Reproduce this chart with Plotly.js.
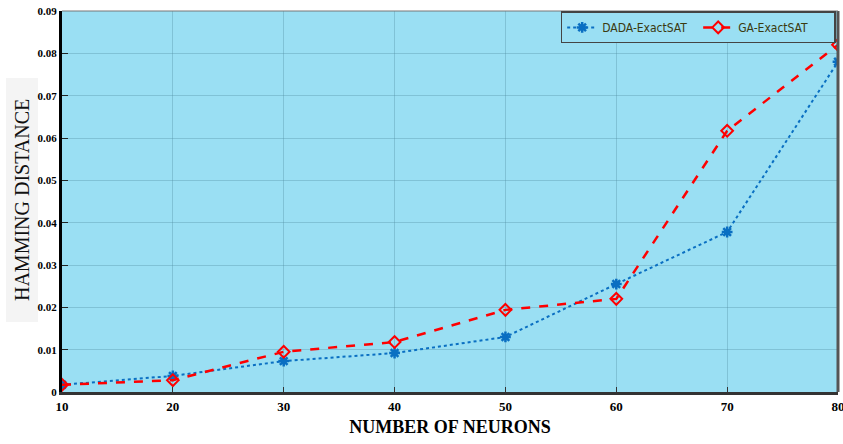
<!DOCTYPE html>
<html><head><meta charset="utf-8">
<script src="https://cdn.plot.ly/plotly-3.0.1.min.js"></script>
<style>html,body{margin:0;padding:0;background:#fff}#c{width:843px;height:444px}</style>
</head><body><div id="c"></div>
<script>
const neurons = [10, 20, 30, 40, 50, 60, 70, 80];
const dadaExactSAT = [0.0017, 0.0038, 0.0073, 0.0092, 0.0130, 0.0255, 0.0378, 0.0780];
const gaExactSAT = [0.0017, 0.0028, 0.0095, 0.0118, 0.0194, 0.0220, 0.0617, 0.0820];
const yTickVals = [0, 0.01, 0.02, 0.03, 0.04, 0.05, 0.06, 0.07, 0.08, 0.09];
const yTickText = ['0', '0.01', '0.02', '0.03', '0.04', '0.05', '0.06', '0.07', '0.08', '0.09'];
const xTickVals = [10, 20, 30, 40, 50, 60, 70, 80];

const traces = [
  {x: neurons, y: dadaExactSAT, name: 'DADA-ExactSAT', type: 'scatter', mode: 'lines+markers',
   line: {color: '#0a6fc2', width: 2, dash: 'dot'},
   marker: {symbol: 'asterisk-open', size: 9, color: '#0a6fc2', line: {color: '#0a6fc2', width: 2.5}}},
  {x: neurons, y: gaExactSAT, name: 'GA-ExactSAT', type: 'scatter', mode: 'lines+markers',
   line: {color: '#ff0000', width: 2.5, dash: 'dash'},
   marker: {symbol: 'diamond-open', size: 9, color: '#ff0000', line: {color: '#ff0000', width: 2}}}
];

const layout = {
  width: 843, height: 444,
  margin: {l: 62, r: 5, t: 11, b: 52},
  paper_bgcolor: '#ffffff',
  plot_bgcolor: '#9adff3',
  showlegend: true,
  legend: {orientation: 'h', x: 0.997, xanchor: 'right', y: 0.999, yanchor: 'top',
    bgcolor: '#9adff3', bordercolor: '#444', borderwidth: 1.5,
    font: {family: 'Liberation Sans Narrow, Arial Narrow, DejaVu Sans Condensed, sans-serif', size: 12, color: '#3a3a10'},
    tracegroupgap: 0, itemwidth: 30, entrywidth: 91},
  xaxis: {range: [10, 80], tickvals: xTickVals, ticktext: xTickVals.map(String),
    ticklabeloverflow: 'allow',
    showgrid: true, gridcolor: 'rgba(80,140,160,0.35)', gridwidth: 1,
    zeroline: false, showline: true, linecolor: '#333', linewidth: 3, mirror: false,
    ticks: 'inside', ticklen: 5, tickcolor: '#333',
    tickfont: {family: 'Liberation Serif, Times New Roman, serif', size: 13, color: '#000', weight: 'bold'},
    title: {text: 'NUMBER OF NEURONS', standoff: 8,
      font: {family: 'Liberation Serif, Times New Roman, serif', size: 18, color: '#000', weight: 'bold'}}},
  yaxis: {range: [0, 0.09], tickvals: yTickVals, ticktext: yTickText,
    ticklabeloverflow: 'allow',
    showgrid: true, gridcolor: 'rgba(80,140,160,0.35)', gridwidth: 1,
    zeroline: false, showline: true, linecolor: '#000', linewidth: 3,
    ticks: 'inside', ticklen: 6, tickcolor: '#222',
    tickfont: {family: 'Liberation Serif, Times New Roman, serif', size: 11, color: '#000', weight: 'bold'}},
  shapes: [
    {type: 'rect', xref: 'paper', yref: 'paper', x0: -0.0722, x1: -0.0309, y0: 0.184, y1: 0.824,
     fillcolor: '#f4f4f4', line: {width: 0}, layer: 'below'},
    {type: 'line', xref: 'paper', yref: 'paper', x0: 1, x1: 1, y0: 0, y1: 1, line: {color: '#555', width: 3}},
    {type: 'line', xref: 'paper', yref: 'paper', x0: 0, x1: 1, y0: 1, y1: 1, line: {color: '#777', width: 1}}
  ],
  annotations: [
    {text: 'HAMMING DISTANCE', xref: 'paper', yref: 'paper', x: -0.0515, y: 0.504,
     xanchor: 'center', yanchor: 'middle', textangle: -90, showarrow: false,
     font: {family: 'Liberation Serif, Times New Roman, serif', size: 20, color: '#111'}}
  ]
};
Plotly.newPlot('c', traces, layout, {displayModeBar: false, staticPlot: true});
</script></body></html>
